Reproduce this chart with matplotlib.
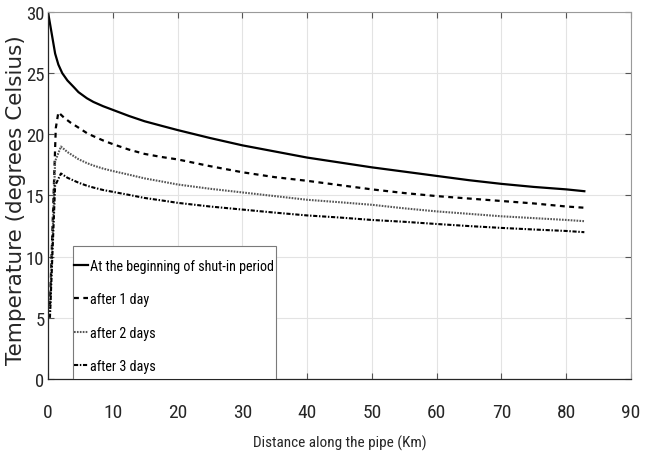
import matplotlib
matplotlib.use("Agg")
import matplotlib.pyplot as plt
from matplotlib.patches import Rectangle

# distance along the pipe (km) and temperature (deg C) for each curve
dist_start = [0, 1.1, 1.6, 2.2, 3.0, 4.0, 4.7, 6, 7, 8.5, 10, 12.5, 14.9, 17.5, 20,
              25, 30, 35, 40, 45, 50, 55, 60, 65, 70, 75, 80, 82.8]
temp_start = [30.0, 26.6, 25.7, 25.0, 24.4, 23.85, 23.45, 22.95, 22.65, 22.3, 22.0,
              21.5, 21.07, 20.7, 20.35, 19.7, 19.1, 18.6, 18.1, 17.7, 17.3, 16.95,
              16.6, 16.25, 15.95, 15.7, 15.5, 15.35]

dist_day1 = [0.3, 1.2, 1.6, 2.5, 3.5, 4.7, 6, 7, 8.5, 10, 12.5, 14.9, 17.5, 20,
             25, 30, 35, 40, 45, 50, 55, 60, 65, 70, 75, 80, 82.8]
temp_day1 = [6.0, 20.5, 21.8, 21.35, 20.95, 20.55, 20.1, 19.85, 19.5, 19.2, 18.75,
             18.4, 18.15, 17.95, 17.4, 16.9, 16.5, 16.2, 15.85, 15.5, 15.2, 14.95,
             14.75, 14.55, 14.35, 14.1, 14.0]

dist_day2 = [0.3, 1.1, 2.0, 3.0, 4.7, 6, 7, 8.5, 10, 12.5, 14.9, 17.5, 20,
             25, 30, 35, 40, 45, 50, 55, 60, 65, 70, 75, 80, 82.8]
temp_day2 = [5.5, 17.8, 19.0, 18.55, 17.97, 17.65, 17.45, 17.2, 17.0, 16.7, 16.4,
             16.15, 15.9, 15.55, 15.25, 14.95, 14.65, 14.45, 14.24, 13.95, 13.7,
             13.5, 13.3, 13.15, 13.0, 12.9]

dist_day3 = [0.3, 1.1, 2.0, 3.0, 4.7, 6, 7, 8.5, 10, 12.5, 14.9, 17.5, 20,
             25, 30, 35, 40, 45, 50, 55, 60, 65, 70, 75, 80, 82.8]
temp_day3 = [5.0, 15.8, 16.8, 16.45, 16.05, 15.8, 15.65, 15.45, 15.3, 15.05, 14.8,
             14.6, 14.4, 14.1, 13.85, 13.6, 13.37, 13.2, 13.0, 12.85, 12.67, 12.5,
             12.35, 12.22, 12.1, 12.0]

labels = ["At the beginning of shut-in period", "after 1 day", "after 2 days", "after 3 days"]
x_ticks = [0, 10, 20, 30, 40, 50, 60, 70, 80, 90]
y_ticks = [0, 5, 10, 15, 20, 25, 30]

NARROW = ["Roboto Condensed", "Liberation Sans", "DejaVu Sans"]
INK = "#262626"

fig = plt.figure(figsize=(6.54, 4.56), dpi=100)
ax = fig.add_axes([0.0734, 0.1667, 0.8914, 0.8048])

ax.plot(dist_start, temp_start, color="black", lw=1.6, ls="-", label=labels[0])
ax.plot(dist_day1, temp_day1, color="black", lw=1.6, ls=(0, (2.2, 2.0)), label=labels[1])
ax.plot(dist_day2, temp_day2, color="#555555", lw=1.5, ls=(0, (0.8, 0.6)), label=labels[2])
ax.plot(dist_day3, temp_day3, color="black", lw=1.5, ls=(0, (2.0, 0.8, 0.7, 0.8)), label=labels[3])

ax.set_xlim(0, 90)
ax.set_ylim(0, 30)
ax.set_xticks(x_ticks)
ax.set_yticks(y_ticks)
ax.grid(True, color="#e3e3e3", lw=0.8)
ax.set_axisbelow(True)

ax.tick_params(axis="both", direction="in", length=4, width=0.8, color="#555555",
               top=True, right=True, labelsize=14, labelcolor=INK)
ax.tick_params(axis="x", pad=17)
ax.tick_params(axis="y", pad=2.5, labelsize=13.5)
for lab in ax.get_xticklabels() + ax.get_yticklabels():
    lab.set_family(NARROW)

for side in ("left", "bottom"):
    ax.spines[side].set_color(INK)
    ax.spines[side].set_linewidth(0.9)
for side in ("top", "right"):
    ax.spines[side].set_color("#9a9a9a")
    ax.spines[side].set_linewidth(0.8)

ax.set_xlabel("Distance along the pipe (Km)", family=NARROW, fontsize=11, color=INK, labelpad=10)
ax.set_ylabel("Temperature (degrees Celsius)", family="DejaVu Sans", fontsize=15.5, color=INK)
ax.yaxis.set_label_coords(-0.037, 0.49)

# legend frame drawn as a box sitting on the bottom axis
ax.add_patch(Rectangle((0.0424, 0.0), 0.3487, 0.3616, transform=ax.transAxes,
                       facecolor="white", edgecolor="#7a7a7a", lw=0.8, zorder=4))
leg = ax.legend(loc="upper left", bbox_to_anchor=(0.0446, 0.327), borderaxespad=0,
                frameon=False, prop={"family": NARROW, "size": 10.2},
                handlelength=1.0, handletextpad=0.15, labelspacing=1.36,
                borderpad=0.0)
leg.set_zorder(5)
for t in leg.get_texts():
    t.set_color("black")

fig.savefig("out.png", dpi=100, facecolor="white")
